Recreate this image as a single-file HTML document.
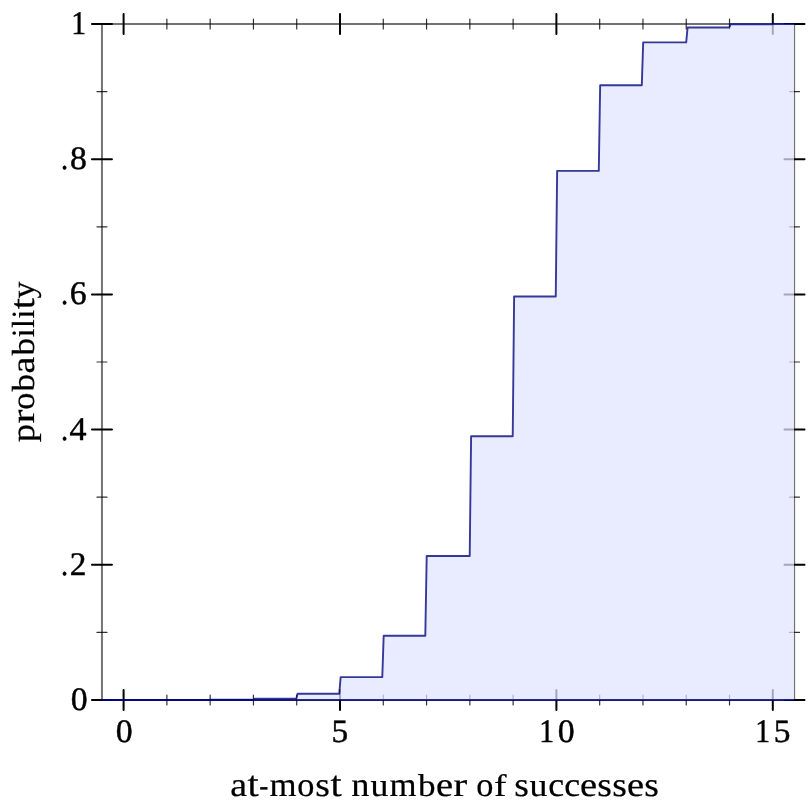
<!DOCTYPE html>
<html><head><meta charset="utf-8"><title>plot</title>
<style>
html,body{margin:0;padding:0;background:#fff;}
body{width:812px;height:812px;overflow:hidden;position:relative;}
svg{position:absolute;left:0;top:0;display:block;will-change:transform;}
text{text-rendering:geometricPrecision;font-family:"Liberation Serif",serif;font-size:32px;fill:#000;stroke:#000;stroke-linejoin:round;vector-effect:non-scaling-stroke;}
</style></head><body>
<svg width="812" height="812" viewBox="0 0 812 812">
<rect width="812" height="812" fill="#fff"/>
<g id="axes">
<line x1="101.96" y1="24.0" x2="794.44" y2="24.0" stroke="#000" stroke-opacity="0.55" stroke-width="2"/>
<line x1="101.96" y1="700.0" x2="794.44" y2="700.0" stroke="#000" stroke-opacity="0.55" stroke-width="2"/>
<line x1="101.96" y1="24.0" x2="101.96" y2="700.0" stroke="#000" stroke-opacity="0.55" stroke-width="2"/>
<line x1="794.5" y1="24.0" x2="794.5" y2="700.0" stroke="#000" stroke-opacity="0.55" stroke-width="1.25"/>
</g>
<g id="ticks">
<line x1="123.60" y1="14.0" x2="123.60" y2="34.0" stroke="#000" stroke-width="2" stroke-opacity="1" stroke-linecap="round"/>
<line x1="123.60" y1="690.0" x2="123.60" y2="710.0" stroke="#000" stroke-width="2" stroke-opacity="1" stroke-linecap="round"/>
<line x1="166.88" y1="19.0" x2="166.88" y2="29.0" stroke="#000" stroke-width="1.2" stroke-opacity="0.8" stroke-linecap="round"/>
<line x1="166.88" y1="695.0" x2="166.88" y2="705.0" stroke="#000" stroke-width="1.2" stroke-opacity="0.8" stroke-linecap="round"/>
<line x1="210.16" y1="19.0" x2="210.16" y2="29.0" stroke="#000" stroke-width="1.2" stroke-opacity="0.8" stroke-linecap="round"/>
<line x1="210.16" y1="695.0" x2="210.16" y2="705.0" stroke="#000" stroke-width="1.2" stroke-opacity="0.8" stroke-linecap="round"/>
<line x1="253.44" y1="19.0" x2="253.44" y2="29.0" stroke="#000" stroke-width="1.2" stroke-opacity="0.8" stroke-linecap="round"/>
<line x1="253.44" y1="695.0" x2="253.44" y2="705.0" stroke="#000" stroke-width="1.2" stroke-opacity="0.8" stroke-linecap="round"/>
<line x1="296.72" y1="19.0" x2="296.72" y2="29.0" stroke="#000" stroke-width="1.2" stroke-opacity="0.8" stroke-linecap="round"/>
<line x1="296.72" y1="695.0" x2="296.72" y2="705.0" stroke="#000" stroke-width="1.2" stroke-opacity="0.8" stroke-linecap="round"/>
<line x1="340.00" y1="14.0" x2="340.00" y2="34.0" stroke="#000" stroke-width="2" stroke-opacity="1" stroke-linecap="round"/>
<line x1="340.00" y1="690.0" x2="340.00" y2="710.0" stroke="#000" stroke-width="2" stroke-opacity="1" stroke-linecap="round"/>
<line x1="383.28" y1="19.0" x2="383.28" y2="29.0" stroke="#000" stroke-width="1.2" stroke-opacity="0.8" stroke-linecap="round"/>
<line x1="383.28" y1="695.0" x2="383.28" y2="705.0" stroke="#000" stroke-width="1.2" stroke-opacity="0.8" stroke-linecap="round"/>
<line x1="426.56" y1="19.0" x2="426.56" y2="29.0" stroke="#000" stroke-width="1.2" stroke-opacity="0.8" stroke-linecap="round"/>
<line x1="426.56" y1="695.0" x2="426.56" y2="705.0" stroke="#000" stroke-width="1.2" stroke-opacity="0.8" stroke-linecap="round"/>
<line x1="469.84" y1="19.0" x2="469.84" y2="29.0" stroke="#000" stroke-width="1.2" stroke-opacity="0.8" stroke-linecap="round"/>
<line x1="469.84" y1="695.0" x2="469.84" y2="705.0" stroke="#000" stroke-width="1.2" stroke-opacity="0.8" stroke-linecap="round"/>
<line x1="513.12" y1="19.0" x2="513.12" y2="29.0" stroke="#000" stroke-width="1.2" stroke-opacity="0.8" stroke-linecap="round"/>
<line x1="513.12" y1="695.0" x2="513.12" y2="705.0" stroke="#000" stroke-width="1.2" stroke-opacity="0.8" stroke-linecap="round"/>
<line x1="556.40" y1="14.0" x2="556.40" y2="34.0" stroke="#000" stroke-width="2" stroke-opacity="1" stroke-linecap="round"/>
<line x1="556.40" y1="690.0" x2="556.40" y2="710.0" stroke="#000" stroke-width="2" stroke-opacity="1" stroke-linecap="round"/>
<line x1="599.68" y1="19.0" x2="599.68" y2="29.0" stroke="#000" stroke-width="1.2" stroke-opacity="0.8" stroke-linecap="round"/>
<line x1="599.68" y1="695.0" x2="599.68" y2="705.0" stroke="#000" stroke-width="1.2" stroke-opacity="0.8" stroke-linecap="round"/>
<line x1="642.96" y1="19.0" x2="642.96" y2="29.0" stroke="#000" stroke-width="1.2" stroke-opacity="0.8" stroke-linecap="round"/>
<line x1="642.96" y1="695.0" x2="642.96" y2="705.0" stroke="#000" stroke-width="1.2" stroke-opacity="0.8" stroke-linecap="round"/>
<line x1="686.24" y1="19.0" x2="686.24" y2="29.0" stroke="#000" stroke-width="1.2" stroke-opacity="0.8" stroke-linecap="round"/>
<line x1="686.24" y1="695.0" x2="686.24" y2="705.0" stroke="#000" stroke-width="1.2" stroke-opacity="0.8" stroke-linecap="round"/>
<line x1="729.52" y1="19.0" x2="729.52" y2="29.0" stroke="#000" stroke-width="1.2" stroke-opacity="0.8" stroke-linecap="round"/>
<line x1="729.52" y1="695.0" x2="729.52" y2="705.0" stroke="#000" stroke-width="1.2" stroke-opacity="0.8" stroke-linecap="round"/>
<line x1="772.80" y1="14.0" x2="772.80" y2="34.0" stroke="#000" stroke-width="2" stroke-opacity="1" stroke-linecap="round"/>
<line x1="772.80" y1="690.0" x2="772.80" y2="710.0" stroke="#000" stroke-width="2" stroke-opacity="1" stroke-linecap="round"/>
<line x1="91.96" y1="700.00" x2="111.96" y2="700.00" stroke="#000" stroke-width="2" stroke-opacity="1" stroke-linecap="round"/>
<line x1="784.50" y1="700.00" x2="804.50" y2="700.00" stroke="#000" stroke-width="2" stroke-opacity="1" stroke-linecap="round"/>
<line x1="96.96" y1="632.40" x2="106.96" y2="632.40" stroke="#000" stroke-width="1.2" stroke-opacity="0.8" stroke-linecap="round"/>
<line x1="789.50" y1="632.40" x2="799.50" y2="632.40" stroke="#000" stroke-width="1.2" stroke-opacity="0.8" stroke-linecap="round"/>
<line x1="91.96" y1="564.80" x2="111.96" y2="564.80" stroke="#000" stroke-width="2" stroke-opacity="1" stroke-linecap="round"/>
<line x1="784.50" y1="564.80" x2="804.50" y2="564.80" stroke="#000" stroke-width="2" stroke-opacity="1" stroke-linecap="round"/>
<line x1="96.96" y1="497.20" x2="106.96" y2="497.20" stroke="#000" stroke-width="1.2" stroke-opacity="0.8" stroke-linecap="round"/>
<line x1="789.50" y1="497.20" x2="799.50" y2="497.20" stroke="#000" stroke-width="1.2" stroke-opacity="0.8" stroke-linecap="round"/>
<line x1="91.96" y1="429.60" x2="111.96" y2="429.60" stroke="#000" stroke-width="2" stroke-opacity="1" stroke-linecap="round"/>
<line x1="784.50" y1="429.60" x2="804.50" y2="429.60" stroke="#000" stroke-width="2" stroke-opacity="1" stroke-linecap="round"/>
<line x1="96.96" y1="362.00" x2="106.96" y2="362.00" stroke="#000" stroke-width="1.2" stroke-opacity="0.8" stroke-linecap="round"/>
<line x1="789.50" y1="362.00" x2="799.50" y2="362.00" stroke="#000" stroke-width="1.2" stroke-opacity="0.8" stroke-linecap="round"/>
<line x1="91.96" y1="294.40" x2="111.96" y2="294.40" stroke="#000" stroke-width="2" stroke-opacity="1" stroke-linecap="round"/>
<line x1="784.50" y1="294.40" x2="804.50" y2="294.40" stroke="#000" stroke-width="2" stroke-opacity="1" stroke-linecap="round"/>
<line x1="96.96" y1="226.80" x2="106.96" y2="226.80" stroke="#000" stroke-width="1.2" stroke-opacity="0.8" stroke-linecap="round"/>
<line x1="789.50" y1="226.80" x2="799.50" y2="226.80" stroke="#000" stroke-width="1.2" stroke-opacity="0.8" stroke-linecap="round"/>
<line x1="91.96" y1="159.20" x2="111.96" y2="159.20" stroke="#000" stroke-width="2" stroke-opacity="1" stroke-linecap="round"/>
<line x1="784.50" y1="159.20" x2="804.50" y2="159.20" stroke="#000" stroke-width="2" stroke-opacity="1" stroke-linecap="round"/>
<line x1="96.96" y1="91.60" x2="106.96" y2="91.60" stroke="#000" stroke-width="1.2" stroke-opacity="0.8" stroke-linecap="round"/>
<line x1="789.50" y1="91.60" x2="799.50" y2="91.60" stroke="#000" stroke-width="1.2" stroke-opacity="0.8" stroke-linecap="round"/>
<line x1="91.96" y1="24.00" x2="111.96" y2="24.00" stroke="#000" stroke-width="2" stroke-opacity="1" stroke-linecap="round"/>
<line x1="784.50" y1="24.00" x2="804.50" y2="24.00" stroke="#000" stroke-width="2" stroke-opacity="1" stroke-linecap="round"/>
</g>
<g id="data">
<polygon points="101.96,700.00 122.78,700.00 124.16,700.00 165.80,700.00 167.18,699.98 208.82,699.98 210.20,699.81 253.22,699.81 254.61,698.70 296.24,698.70 297.63,693.68 339.26,693.68 340.65,677.13 382.28,677.13 383.67,635.75 425.30,635.75 426.69,555.94 469.71,555.94 471.10,436.23 512.73,436.23 514.12,296.57 555.75,296.57 557.14,170.88 598.77,170.88 600.16,85.18 641.79,85.18 643.18,42.33 686.20,42.33 687.58,27.50 729.22,27.50 730.60,24.32 772.24,24.32 773.62,24.00 794.00,24.00 794.00,700.00 101.96,700.00" fill="rgb(225,229,255)" fill-opacity="0.73" stroke="none"/>
<polyline points="101.96,700.00 122.78,700.00 124.16,700.00 165.80,700.00 167.18,699.98 208.82,699.98 210.20,699.81 253.22,699.81 254.61,698.70 296.24,698.70 297.63,693.68 339.26,693.68 340.65,677.13 382.28,677.13 383.67,635.75 425.30,635.75 426.69,555.94 469.71,555.94 471.10,436.23 512.73,436.23 514.12,296.57 555.75,296.57 557.14,170.88 598.77,170.88 600.16,85.18 641.79,85.18 643.18,42.33 686.20,42.33 687.58,27.50 729.22,27.50 730.60,24.32 772.24,24.32 773.62,24.00 794.00,24.00" fill="none" stroke="rgb(0,2,123)" stroke-opacity="0.78" stroke-width="1.9" stroke-linejoin="round" stroke-linecap="round"/>
<line x1="101.96" y1="700.0" x2="794.00" y2="700.0" stroke="rgb(0,2,123)" stroke-opacity="0.8" stroke-width="2" stroke-linecap="butt"/>
</g>
<g id="labels">
<text transform="translate(115.87,742) scale(1.0567,1.0232)" stroke-width="0.45">0</text>
<text transform="translate(331.58,742) scale(1.0440,1.0201)" stroke-width="0.45">5</text>
<text transform="translate(539.19,742) scale(0.9288,1.0308)" stroke-width="0.45">1</text>
<text transform="translate(557.87,742) scale(1.0567,1.0232)" stroke-width="0.45">0</text>
<text transform="translate(755.19,742) scale(0.9288,1.0308)" stroke-width="0.45">1</text>
<text transform="translate(773.78,742) scale(1.0440,1.0201)" stroke-width="0.45">5</text>
<text transform="translate(70.87,710) scale(1.0567,1.0232)" stroke-width="0.45">0</text>
<text transform="translate(61.11,575) scale(0.8886,0.9566)" stroke-width="0.45">.</text>
<text transform="translate(69.75,575) scale(1.0401,1.0277)" stroke-width="0.45">2</text>
<text transform="translate(61.11,440) scale(0.8886,0.9566)" stroke-width="0.45">.</text>
<text transform="translate(69.46,440) scale(1.0645,1.0338)" stroke-width="0.45">4</text>
<text transform="translate(61.11,304) scale(0.8886,0.9566)" stroke-width="0.45">.</text>
<text transform="translate(69.74,304) scale(1.0535,1.0277)" stroke-width="0.45">6</text>
<text transform="translate(61.11,169) scale(0.8886,0.9566)" stroke-width="0.45">.</text>
<text transform="translate(69.90,169) scale(1.0524,1.0232)" stroke-width="0.45">8</text>
<text transform="translate(71.19,34) scale(0.9288,1.0308)" stroke-width="0.45">1</text>
<text transform="translate(230.23,796) scale(1.1864,1.0589)" stroke-width="0.2">a</text>
<text transform="translate(247.55,796) scale(1.2530,1.1379)" stroke-width="0.2">t</text>
<text transform="translate(259.37,796) scale(0.8581,1.0190)" stroke-width="0.2">-</text>
<text transform="translate(269.43,796) scale(1.0858,1.0545)" stroke-width="0.2">m</text>
<text transform="translate(297.26,796) scale(1.0709,1.0545)" stroke-width="0.2">o</text>
<text transform="translate(315.21,796) scale(1.1721,1.0545)" stroke-width="0.2">s</text>
<text transform="translate(330.55,796) scale(1.2530,1.1379)" stroke-width="0.2">t</text>
<text transform="translate(351.32,796) scale(1.1376,1.0545)" stroke-width="0.2">n</text>
<text transform="translate(370.42,796) scale(1.1187,1.0145)" stroke-width="0.2">u</text>
<text transform="translate(389.43,796) scale(1.0858,1.0545)" stroke-width="0.2">m</text>
<text transform="translate(417.95,796) scale(1.0998,0.9863)" stroke-width="0.2">b</text>
<text transform="translate(436.06,796) scale(1.2021,1.0545)" stroke-width="0.2">e</text>
<text transform="translate(453.32,796) scale(1.3110,1.0545)" stroke-width="0.2">r</text>
<text transform="translate(476.26,796) scale(1.0709,1.0545)" stroke-width="0.2">o</text>
<text transform="translate(494.00,796) scale(1.1744,0.9720)" stroke-width="0.2">f</text>
<text transform="translate(514.21,796) scale(1.1721,1.0545)" stroke-width="0.2">s</text>
<text transform="translate(529.42,796) scale(1.1187,1.0145)" stroke-width="0.2">u</text>
<text transform="translate(548.20,796) scale(1.1184,1.0545)" stroke-width="0.2">c</text>
<text transform="translate(564.20,796) scale(1.1184,1.0545)" stroke-width="0.2">c</text>
<text transform="translate(580.06,796) scale(1.2021,1.0545)" stroke-width="0.2">e</text>
<text transform="translate(597.21,796) scale(1.1721,1.0545)" stroke-width="0.2">s</text>
<text transform="translate(612.21,796) scale(1.1721,1.0545)" stroke-width="0.2">s</text>
<text transform="translate(627.06,796) scale(1.2021,1.0545)" stroke-width="0.2">e</text>
<text transform="translate(644.21,796) scale(1.1721,1.0545)" stroke-width="0.2">s</text>
<text transform="translate(34,442.19) rotate(-90) scale(1.1421,1.0307)" stroke-width="0.2">p</text>
<text transform="translate(34,423.57) rotate(-90) scale(1.3110,1.0307)" stroke-width="0.2">r</text>
<text transform="translate(34,409.69) rotate(-90) scale(1.0709,1.0307)" stroke-width="0.2">o</text>
<text transform="translate(34,391.45) rotate(-90) scale(1.0998,0.9992)" stroke-width="0.2">b</text>
<text transform="translate(34,373.50) rotate(-90) scale(1.1864,1.0350)" stroke-width="0.2">a</text>
<text transform="translate(34,355.40) rotate(-90) scale(1.0998,0.9992)" stroke-width="0.2">b</text>
<text transform="translate(34,337.18) rotate(-90) scale(0.9788,1.0140)" stroke-width="0.2">i</text>
<text transform="translate(34,328.04) rotate(-90) scale(0.9807,0.9992)" stroke-width="0.2">l</text>
<text transform="translate(34,318.53) rotate(-90) scale(0.9788,1.0140)" stroke-width="0.2">i</text>
<text transform="translate(34,309.15) rotate(-90) scale(1.2530,1.1019)" stroke-width="0.2">t</text>
<text transform="translate(34,298.39) rotate(-90) scale(1.0573,1.0298)" stroke-width="0.2">y</text>
</g>
</svg>
</body></html>
